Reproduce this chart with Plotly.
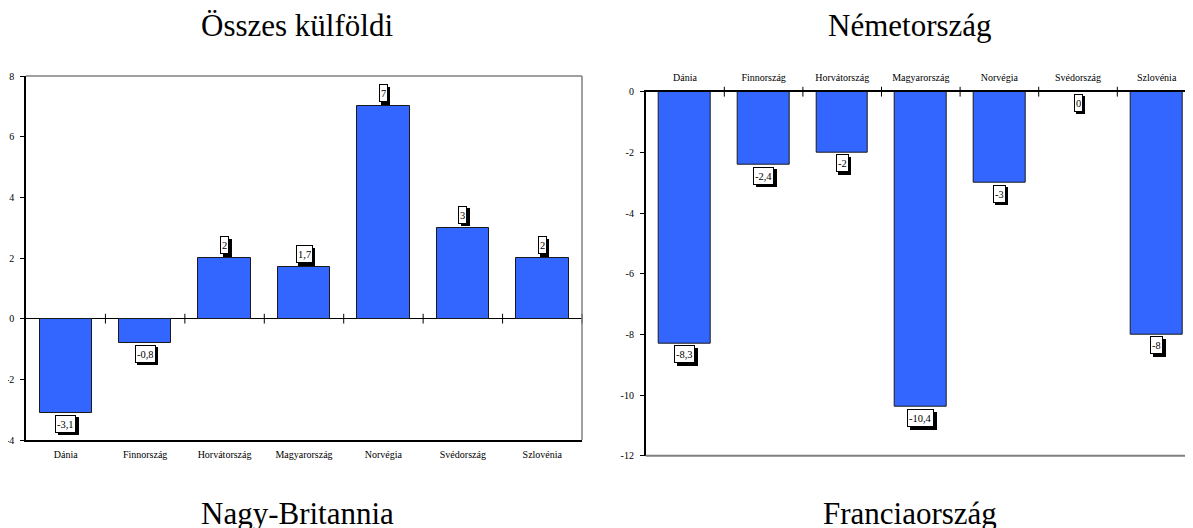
import plotly.graph_objects as go

# ---- data ----
categories = ["Dánia", "Finnország", "Horvátország", "Magyarország", "Norvégia", "Svédország", "Szlovénia"]
osszes_values = [-3.1, -0.8, 2, 1.7, 7, 3, 2]
nemet_values = [-8.3, -2.4, -2, -10.4, -3, 0, -8]
left_yticks = [-4, -2, 0, 2, 4, 6, 8]
right_yticks = [-12, -10, -8, -6, -4, -2, 0]
titles = ["Összes külföldi", "Németország", "Nagy-Britannia", "Franciaország"]

W, H = 1193, 528
OFF = 8  # page body margin offset
FONT = "Liberation Serif"
BLUE = "#3366FF"

x_idx = list(range(len(categories)))
boundaries = [i + 0.5 for i in x_idx]


def fmt(v):
    return f"{v:g}".replace(".", ",")


def px(v):
    return (v - OFF) / W


def py(v):
    return 1 - (v - OFF) / H


fig = go.Figure()

fig.add_trace(go.Bar(x=x_idx, y=osszes_values, xaxis="x", yaxis="y", width=0.66,
                     marker=dict(color=BLUE, line=dict(color="#1a1a1a", width=1)),
                     hoverinfo="skip"))
fig.add_trace(go.Bar(x=x_idx, y=nemet_values, xaxis="x2", yaxis="y2", width=0.66,
                     marker=dict(color=BLUE, line=dict(color="#1a1a1a", width=1)),
                     hoverinfo="skip"))

# crossing ticks on the zero line at category boundaries
for xa, ya in (("x", "y"), ("x2", "y2")):
    fig.add_trace(go.Scatter(x=boundaries, y=[0] * len(boundaries), xaxis=xa, yaxis=ya,
                             mode="markers", cliponaxis=False, hoverinfo="skip",
                             marker=dict(symbol="line-ns-open", size=7, color="black",
                                         line=dict(color="black", width=1))))

# plot-area geometry (pixels in the screenshot)
L_x0, L_x1, L_top, L_bot = 26, 582, 76, 440
R_x0, R_top, R_bot = 645.7, 91.7, 455.7
cat_w_right = 78.6
right_xmax = -0.5 + (W + OFF - R_x0) / cat_w_right

axis_font = dict(family=FONT, size=10, color="black")

fig.update_layout(
    width=W, height=H,
    margin=dict(l=0, r=0, t=0, b=0),
    paper_bgcolor="white", plot_bgcolor="white",
    showlegend=False, bargap=0,
    xaxis=dict(domain=[px(L_x0), px(L_x1)], range=[-0.5, len(categories) - 0.5], anchor="y",
               tickvals=x_idx, ticktext=categories, ticks="", tickfont=axis_font,
               showline=True, linecolor="black", linewidth=1.5, automargin=False,
               showgrid=False, zeroline=False, ticklabelstandoff=4),
    yaxis=dict(domain=[py(L_bot), py(L_top)], range=[left_yticks[0], left_yticks[-1]], anchor="x",
               tickvals=left_yticks, ticktext=[str(t) for t in left_yticks], tickfont=axis_font,
               ticks="outside", ticklen=4, tickcolor="black", tickwidth=1,
               showline=True, linecolor="black", linewidth=1.5, automargin=False,
               showgrid=False, zeroline=True, zerolinecolor="black", zerolinewidth=1.2,
               ticklabelstandoff=4),
    xaxis2=dict(domain=[px(R_x0), 1.0], range=[-0.5, right_xmax], anchor="y2", side="top",
                tickvals=x_idx, ticktext=categories, ticks="", tickfont=axis_font,
                showline=True, linecolor="black", linewidth=1.5, automargin=False,
                showgrid=False, zeroline=False, ticklabelstandoff=5),
    yaxis2=dict(domain=[py(R_bot), py(R_top)], range=[right_yticks[0], right_yticks[-1]], anchor="x2",
                tickvals=right_yticks, ticktext=[str(t) for t in right_yticks], tickfont=axis_font,
                ticks="outside", ticklen=4, tickcolor="black", tickwidth=1,
                showline=True, linecolor="black", linewidth=1.5, automargin=False,
                showgrid=False, zeroline=False, ticklabelstandoff=4),
)

# gray frame parts
GRAY = "#808080"
fig.add_shape(type="line", xref="x domain", yref="y domain", x0=0, x1=1, y0=1, y1=1,
              line=dict(color=GRAY, width=1.5))
fig.add_shape(type="line", xref="x domain", yref="y domain", x0=1, x1=1, y0=0, y1=1,
              line=dict(color=GRAY, width=1.5))
fig.add_shape(type="line", xref="x2 domain", yref="y2 domain", x0=0, x1=1, y0=0, y1=0,
              line=dict(color=GRAY, width=2))

# data labels with drop shadow
lab_font = dict(family=FONT, size=10.5, color="black")
for xa, ya, vals in (("x", "y", osszes_values), ("x2", "y2", nemet_values)):
    for i, v in zip(x_idx, vals):
        pos = v > 0
        ys = 4 if pos else -2
        anchor = "bottom" if pos else "top"
        fig.add_annotation(x=i, y=v, xref=xa, yref=ya, text=fmt(v), showarrow=False,
                           yanchor=anchor, yshift=ys - 2.5, xshift=2.5, height=14,
                           font=dict(family=FONT, size=10.5, color="black"),
                           bgcolor="black", bordercolor="black", borderwidth=1, borderpad=1)
        fig.add_annotation(x=i, y=v, xref=xa, yref=ya, text=fmt(v), showarrow=False,
                           yanchor=anchor, yshift=ys, height=14,
                           font=lab_font, bgcolor="white", bordercolor="black",
                           borderwidth=1, borderpad=1)

# chart titles
title_font = dict(family=FONT, size=31, color="black")
title_pos = [(297, 25), (910, 25), (297, 513), (910, 513)]
for t, (tx, ty) in zip(titles, title_pos):
    fig.add_annotation(x=px(tx), y=py(ty), xref="paper", yref="paper", text=t,
                       showarrow=False, xanchor="center", yanchor="middle", font=title_font)

fig.write_html("out.html")
